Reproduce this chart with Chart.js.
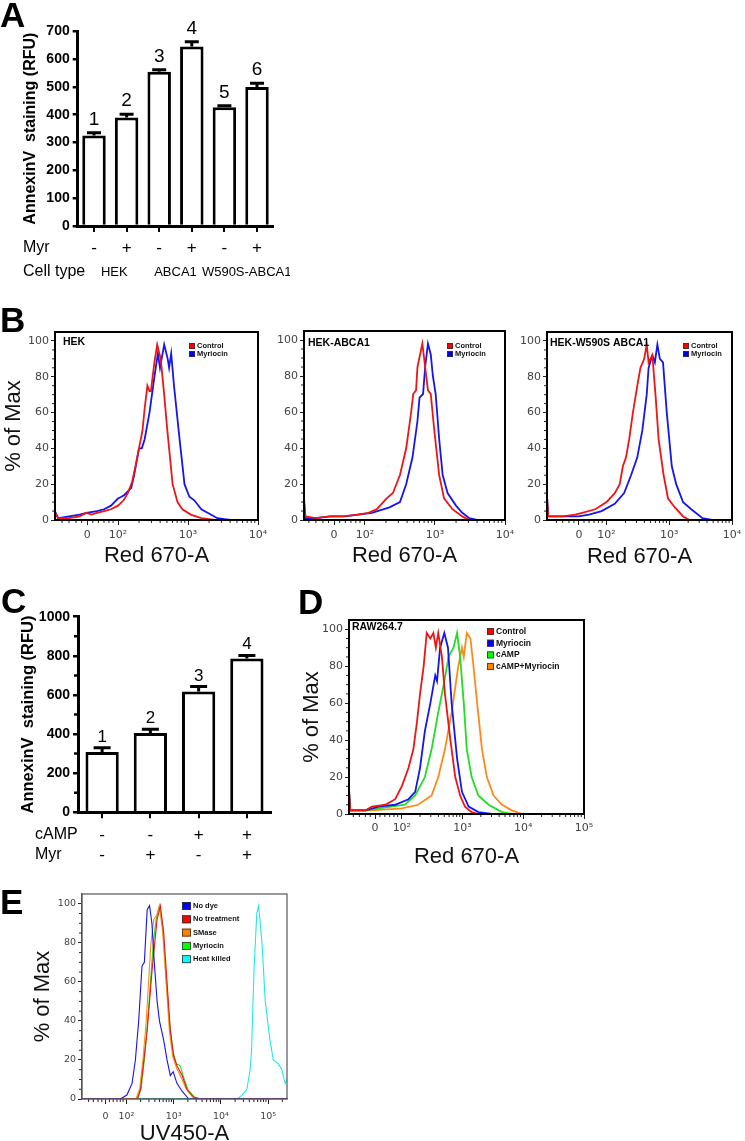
<!DOCTYPE html>
<html>
<head>
<meta charset="utf-8">
<script src="https://cdn.jsdelivr.net/npm/chart.js@4.4.1/dist/chart.umd.min.js"></script>
<style>
  html, body { margin: 0; padding: 0; background: #fff; width: 745px; height: 1141px; overflow: hidden; }
  canvas { position: absolute; }
  .panel { position: absolute; font: bold 35px "Liberation Sans", Arial, sans-serif; line-height: 35px; color: #000; }
</style>
</head>
<body>
<canvas id="chartA"></canvas>
<canvas id="chartC"></canvas>
<canvas id="chartB1"></canvas>
<canvas id="chartB2"></canvas>
<canvas id="chartB3"></canvas>
<canvas id="chartD"></canvas>
<canvas id="chartE"></canvas>
<div class="panel" style="left:0px;top:-3px">A</div>
<div class="panel" style="left:0px;top:302px">B</div>
<div class="panel" style="left:1px;top:583px">C</div>
<div class="panel" style="left:298px;top:584px">D</div>
<div class="panel" style="left:0px;top:884px">E</div>
<script>
// Panel A - AnnexinV staining, HEK / ABCA1 / W590S-ABCA1
const aMyr = ['-', '+', '-', '+', '-', '+'];
const aValues = [325, 390, 555, 645, 427, 500];
const aErrors = [10, 12, 7, 17, 5, 13];
const aCellTypes = ['HEK', 'ABCA1', 'W590S-ABCA1'];

// Panel C - AnnexinV staining, RAW264.7 with cAMP / Myr
const cCamp = ['-', '-', '+', '+'];
const cMyr = ['-', '+', '-', '+'];
const cValues = [308, 406, 618, 786];
const cErrors = [22, 18, 25, 16];

// Flow histograms: x is the display (logicle) position, 2 = 10^2, 3 = 10^3 ...
const xTickValues = [1.56, 2, 3, 4, 5];
const xTickLabels = ['0', '10\u00B2', '10\u00B3', '10\u2074', '10\u2075'];
const yTickValues = [0, 20, 40, 60, 80, 100];

// B - HEK
const hekControl = [[1.1,2],[1.12,3],[1.14,1],[1.3,1],[1.45,2],[1.55,4],[1.62,3],[1.7,4],[1.8,5],[1.9,6],[2.0,8],[2.08,11],[2.14,15],[2.2,21],[2.25,30],[2.3,40],[2.35,50],[2.38,62],[2.42,75],[2.45,72],[2.47,72],[2.52,88],[2.56,98],[2.61,90],[2.66,70],[2.7,52],[2.73,40],[2.78,20],[2.85,10],[2.92,6],[3.04,3],[3.19,1],[3.38,0],[4.0,0]];
const hekMyriocin = [[1.1,5],[1.12,3],[1.15,1],[1.3,2],[1.45,3],[1.55,4],[1.7,5],[1.8,6],[1.9,8],[2.0,12],[2.05,13],[2.09,14],[2.14,16],[2.19,18],[2.23,25],[2.3,40],[2.34,40],[2.38,45],[2.45,60],[2.52,80],[2.57,93],[2.6,85],[2.66,98],[2.71,90],[2.73,85],[2.76,93],[2.8,75],[2.88,45],[2.95,20],[3.02,13],[3.09,11],[3.19,6],[3.28,4],[3.42,1],[3.6,0],[4.0,0]];
// B - HEK-ABCA1
const abcaControl = [[1.13,12],[1.15,2],[1.3,1],[1.5,2],[1.7,2],[1.9,3],[2.05,4],[2.17,6],[2.31,12],[2.4,15],[2.5,25],[2.59,40],[2.66,60],[2.69,70],[2.73,72],[2.75,85],[2.82,98],[2.86,85],[2.9,72],[2.94,70],[2.99,50],[3.06,25],[3.13,12],[3.25,6],[3.39,2],[3.49,0],[4.0,0]];
const abcaMyriocin = [[1.13,10],[1.15,1],[1.3,1],[1.5,2],[1.7,2],[1.9,3],[2.1,4],[2.35,7],[2.5,10],[2.59,20],[2.68,35],[2.75,55],[2.78,68],[2.83,70],[2.86,85],[2.9,98],[2.94,92],[2.97,80],[3.01,70],[3.06,45],[3.11,25],[3.18,15],[3.3,8],[3.39,4],[3.49,1],[3.6,0],[4.0,0]];
// B - HEK-W590S ABCA1
const w590Control = [[1.05,13],[1.07,2],[1.3,2],[1.5,3],[1.61,4],[1.82,6],[2.0,10],[2.13,15],[2.21,20],[2.26,30],[2.31,35],[2.36,45],[2.42,60],[2.49,75],[2.54,85],[2.6,90],[2.64,98],[2.67,88],[2.73,92],[2.78,70],[2.83,45],[2.91,25],[2.98,12],[3.09,7],[3.22,2],[3.32,0],[4.0,0]];
const w590Myriocin = [[1.05,13],[1.07,2],[1.3,2],[1.55,2],[1.72,3],[1.92,5],[2.13,9],[2.28,15],[2.39,25],[2.49,35],[2.57,50],[2.64,70],[2.67,85],[2.73,92],[2.77,88],[2.81,98],[2.85,90],[2.9,88],[2.96,60],[3.04,30],[3.11,20],[3.22,10],[3.35,6],[3.53,1],[3.68,0],[4.0,0]];
// D - RAW264.7
const rawControl = [[1.13,13],[1.15,2],[1.4,2],[1.51,4],[1.73,5],[1.89,8],[2.0,15],[2.11,25],[2.19,35],[2.25,50],[2.3,65],[2.36,80],[2.41,98],[2.47,95],[2.52,98],[2.56,90],[2.6,98],[2.66,85],[2.71,65],[2.8,40],[2.88,20],[2.96,10],[3.04,4],[3.15,1],[3.26,0],[5,0]];
const rawMyriocin = [[1.13,13],[1.15,2],[1.4,2],[1.62,4],[1.89,5],[2.11,8],[2.22,12],[2.3,25],[2.38,45],[2.47,60],[2.55,75],[2.58,72],[2.63,90],[2.7,98],[2.76,90],[2.82,60],[2.91,30],[2.99,12],[3.1,4],[3.26,1],[3.48,0],[5,0]];
const rawCamp = [[1.13,13],[1.15,2],[1.4,2],[1.62,3],[2.05,5],[2.22,10],[2.38,20],[2.49,35],[2.6,55],[2.69,70],[2.77,85],[2.85,90],[2.91,98],[2.96,85],[3.02,60],[3.07,35],[3.15,20],[3.26,10],[3.43,5],[3.65,1],[3.81,0],[5,0]];
const rawCampMyriocin = [[1.13,13],[1.15,2],[1.5,2],[2.0,3],[2.27,5],[2.49,10],[2.6,20],[2.71,35],[2.82,55],[2.93,80],[2.99,90],[3.02,85],[3.07,98],[3.13,95],[3.18,80],[3.24,60],[3.32,35],[3.4,20],[3.51,10],[3.65,5],[3.81,2],[3.98,0],[5,0]];
// E - UV450
const eNoDye = [[1.06,0],[1.87,0],[2.01,2],[2.12,8],[2.19,20],[2.26,40],[2.33,68],[2.38,70],[2.44,97],[2.49,99],[2.54,90],[2.59,70],[2.65,50],[2.7,40],[2.79,30],[2.86,20],[2.93,12],[2.99,14],[3.07,8],[3.18,4],[3.32,0],[5.4,0]];
const eNoTreatment = [[1.06,0],[2.23,0],[2.3,5],[2.37,20],[2.44,35],[2.49,50],[2.54,65],[2.6,80],[2.65,92],[2.72,99],[2.79,85],[2.86,60],[2.93,35],[3.0,22],[3.07,17],[3.18,12],[3.28,5],[3.42,1],[3.56,0],[5.4,0]];
const eSMase = [[1.06,0],[2.2,0],[2.28,5],[2.35,20],[2.42,40],[2.47,60],[2.52,80],[2.58,92],[2.64,94],[2.7,99],[2.77,85],[2.84,60],[2.91,35],[2.98,22],[3.06,16],[3.16,11],[3.27,5],[3.4,1],[3.55,0],[5.4,0]];
const eMyriocin = [[1.06,0],[2.24,0],[2.31,5],[2.38,20],[2.45,40],[2.51,60],[2.57,80],[2.63,92],[2.7,99],[2.77,88],[2.84,62],[2.92,38],[2.99,24],[3.06,18],[3.14,17],[3.2,12],[3.3,5],[3.44,1],[3.58,0],[5.4,0]];
const eHeatKilled = [[1.06,0],[4.34,0],[4.45,2],[4.55,5],[4.62,15],[4.65,25],[4.7,65],[4.76,95],[4.8,99],[4.87,80],[4.94,50],[5.04,30],[5.11,20],[5.22,18],[5.29,15],[5.36,8],[5.4,10]];

const FONT = '"Liberation Sans", Arial, sans-serif';
const TICKFONT = '"DejaVu Sans", Verdana, sans-serif';

// minor tick positions on the histogram axes
const xMinor = [1.2, 1.3, 1.4, 1.48, 1.64, 1.72, 1.8, 1.87, 1.93];
for (let d = 2; d <= 5; d++) for (let k = 2; k <= 9; k++) xMinor.push(d + Math.log10(k));
const yMinor = [];
for (let v = 5; v < 100; v += 5) if (v % 20) yMinor.push(v);

function place(canvas, box) {
  canvas.width = box.w;
  canvas.height = box.h;
  canvas.style.left = box.x + 'px';
  canvas.style.top = box.y + 'px';
}

function layoutFor(box, area) {
  return {
    padding: { left: 0, top: area.t - box.y, right: box.x + box.w - area.r, bottom: 0 },
    yWidth: area.l - box.x,
    xHeight: box.y + box.h - area.b
  };
}

// error bars, bar numbers and the extra label rows under panels A and C
const barDecor = {
  id: 'barDecor',
  afterDraw(chart, args, o) {
    const { ctx, scales: { y } } = chart;
    const meta = chart.getDatasetMeta(0);
    const values = chart.data.datasets[0].data;
    ctx.save();
    ctx.strokeStyle = '#000';
    ctx.fillStyle = '#000';
    ctx.lineWidth = 3;
    meta.data.forEach((bar, i) => {
      const base = y.getPixelForValue(values[i]);
      const top = y.getPixelForValue(values[i] + o.errors[i]);
      ctx.beginPath();
      ctx.moveTo(bar.x, base);
      ctx.lineTo(bar.x, top);
      ctx.moveTo(bar.x - o.cap / 2, top);
      ctx.lineTo(bar.x + o.cap / 2, top);
      ctx.stroke();
      ctx.font = `${o.numSize}px ${FONT}`;
      ctx.textAlign = 'center';
      ctx.textBaseline = 'alphabetic';
      ctx.fillText(String(i + 1), bar.x, top - o.numGap);
    });
    // minor y ticks
    if (o.yMinor) {
      ctx.lineWidth = 2.5;
      ctx.beginPath();
      o.yMinor.forEach(v => {
        const p = y.getPixelForValue(v);
        ctx.moveTo(chart.chartArea.left, p);
        ctx.lineTo(chart.chartArea.left - 4, p);
      });
      ctx.stroke();
    }
    // group names centred under each pair of bars
    if (o.groups) {
      ctx.font = `${o.groupSize}px ${FONT}`;
      ctx.textAlign = 'center';
      ctx.textBaseline = 'middle';
      o.groups.forEach((g, i) => {
        const xa = meta.data[2 * i].x, xb = meta.data[2 * i + 1].x;
        ctx.fillText(g, (xa + xb) / 2 + o.groupShift[i], o.groupY);
      });
    }
    ctx.textAlign = 'left';
    ctx.textBaseline = 'middle';
    o.rows.forEach(r => {
      ctx.font = `${r.size}px ${FONT}`;
      ctx.fillText(r.text, r.x, r.y);
    });
    ctx.restore();
  }
};

function barChart(id, box, area, cfg) {
  const canvas = document.getElementById(id);
  place(canvas, box);
  const lay = layoutFor(box, area);
  return new Chart(canvas, {
    type: 'bar',
    data: {
      labels: cfg.labels,
      datasets: [{
        data: cfg.values,
        backgroundColor: '#fff',
        borderColor: '#000',
        borderWidth: 3,
        categoryPercentage: 1,
        barPercentage: cfg.barPct
      }]
    },
    options: {
      responsive: false,
      animation: false,
      layout: { padding: lay.padding },
      plugins: {
        legend: { display: false },
        tooltip: { enabled: false },
        barDecor: cfg.decor
      },
      scales: {
        x: {
          grid: { display: true, drawOnChartArea: false, offset: false, tickLength: 6, color: '#000', lineWidth: 2 },
          border: { color: '#000', width: 3 },
          ticks: { color: '#000', font: { family: FONT, size: 17, lineHeight: 1.2 }, padding: cfg.xPad, maxRotation: 0, autoSkip: false },
          afterFit: s => { s.height = lay.xHeight; }
        },
        y: {
          min: 0,
          max: cfg.max,
          ticks: { stepSize: cfg.step, callback: v => String(v), color: '#000', font: { family: FONT, size: 14, weight: 'bold' }, padding: 3 },
          grid: { display: true, drawOnChartArea: false, tickLength: 5, color: '#000', lineWidth: 2.5 },
          border: { color: '#000', width: 3 },
          title: {
            display: true,
            text: 'AnnexinV  staining (RFU)',
            color: '#000',
            font: { family: FONT, size: cfg.titleSize, weight: 'bold', lineHeight: 1.2 },
            padding: { top: cfg.titleX - box.x - cfg.titleSize * 0.6, bottom: 0 }
          },
          afterFit: s => { s.width = lay.yWidth; }
        }
      }
    },
    plugins: [barDecor]
  });
}

// frame, minor ticks, sample name and the boxed legend of a flow histogram
const histDecor = {
  id: 'histDecor',
  afterDraw(chart, args, o) {
    const { ctx, chartArea: a, scales: { x, y } } = chart;
    ctx.save();
    ctx.strokeStyle = '#222';
    ctx.lineWidth = 1;
    ctx.beginPath();
    xMinor.forEach(v => {
      if (v <= x.min || v >= x.max) return;
      const p = x.getPixelForValue(v);
      ctx.moveTo(p, a.bottom);
      ctx.lineTo(p, a.bottom + 3);
    });
    yMinor.forEach(v => {
      const p = y.getPixelForValue(v);
      ctx.moveTo(a.left, p);
      ctx.lineTo(a.left - 3, p);
    });
    ctx.stroke();

    ctx.strokeStyle = o.frameColor;
    ctx.lineWidth = o.frameWidth;
    ctx.strokeRect(a.left, a.top, a.right - a.left, a.bottom - a.top);

    if (o.name) {
      ctx.fillStyle = '#000';
      ctx.font = `bold ${o.nameSize}px ${FONT}`;
      ctx.textAlign = 'left';
      ctx.textBaseline = 'middle';
      ctx.fillText(o.name, a.left + o.nameX, a.top + o.nameY);
    }

    const lg = o.legend;
    ctx.font = `bold ${lg.size}px ${FONT}`;
    ctx.textBaseline = 'middle';
    chart.data.datasets.forEach((ds, i) => {
      const bx = a.left + lg.x;
      const by = a.top + lg.y + i * lg.step;
      ctx.fillStyle = ds.boxColor;
      ctx.fillRect(bx, by, lg.w, lg.h);
      ctx.strokeStyle = '#333';
      ctx.lineWidth = 0.8;
      ctx.strokeRect(bx + 0.5, by + 0.5, lg.w - 1, lg.h - 1);
      ctx.fillStyle = '#111';
      ctx.fillText(ds.label, bx + lg.w + 2, by + lg.h / 2);
    });
    ctx.restore();
  }
};

function histChart(id, box, area, cfg) {
  const canvas = document.getElementById(id);
  place(canvas, box);
  const lay = layoutFor(box, area);
  const titleFont = { family: FONT, size: 22, lineHeight: 1.2 };
  return new Chart(canvas, {
    type: 'line',
    data: {
      datasets: cfg.series.map(s => ({
        label: s.label,
        data: s.points.map(p => ({ x: p[0], y: p[1] })),
        borderColor: s.color,
        boxColor: s.box,
        borderWidth: cfg.lineWidth,
        pointRadius: 0,
        tension: 0,
        fill: false
      }))
    },
    options: {
      responsive: false,
      animation: false,
      layout: { padding: lay.padding },
      plugins: {
        legend: { display: false },
        tooltip: { enabled: false },
        histDecor: cfg.decor
      },
      scales: {
        x: {
          type: 'linear',
          min: cfg.xMin,
          max: cfg.xMax,
          afterBuildTicks: s => { s.ticks = xTickValues.filter(v => v <= cfg.xMax).map(v => ({ value: v })); },
          ticks: {
            callback: v => xTickLabels[xTickValues.indexOf(v)],
            color: '#444',
            font: { family: TICKFONT, size: cfg.tickSize },
            padding: cfg.xTickPad,
            maxRotation: 0,
            autoSkip: false
          },
          grid: { display: true, drawOnChartArea: false, tickLength: 5, color: '#222', lineWidth: 1 },
          border: { color: cfg.decor.frameColor, width: cfg.decor.frameWidth },
          title: {
            display: true,
            text: cfg.xTitle,
            color: '#111',
            font: titleFont,
            padding: { top: 0, bottom: box.y + box.h - cfg.xTitleY - 13.2 }
          },
          afterFit: s => { s.height = lay.xHeight; }
        },
        y: {
          min: 0,
          max: 105,
          afterBuildTicks: s => { s.ticks = yTickValues.map(v => ({ value: v })); },
          ticks: { color: '#444', font: { family: TICKFONT, size: cfg.tickSize }, padding: 2 },
          grid: { display: true, drawOnChartArea: false, tickLength: 4, color: '#222', lineWidth: 1 },
          border: { color: cfg.decor.frameColor, width: cfg.decor.frameWidth },
          title: {
            display: !!cfg.yTitleX,
            text: '% of Max',
            color: '#111',
            font: titleFont,
            padding: { top: (cfg.yTitleX || 0) - box.x - 13.2, bottom: 0 }
          },
          afterFit: s => { s.width = lay.yWidth; }
        }
      }
    },
    plugins: [histDecor]
  });
}

const RED = '#ee1515', BLUE = '#1515ee', GREEN = '#22dd22', ORANGE = '#ff8a1a', CYAN = '#22e8e8';
const bLegend = { w: 6, h: 6, step: 8, size: 7.5 };

// ---- A ----
barChart('chartA', { x: 0, y: 0, w: 290, h: 290 }, { l: 77.7, t: 31.3, r: 273.3, b: 226 }, {
  labels: aMyr, values: aValues, max: 700, step: 100, barPct: 0.72, xPad: 5.8,
  titleX: 31, titleSize: 16,
  decor: {
    errors: aErrors, cap: 14, numSize: 19, numGap: 8,
    groups: aCellTypes, groupSize: 13, groupY: 272, groupShift: [4, 0, 6],
    rows: [{ text: 'Myr', x: 23, y: 248, size: 16 }, { text: 'Cell type', x: 23, y: 272, size: 16 }]
  }
});

// ---- C ----
barChart('chartC', { x: 0, y: 600, w: 290, h: 270 }, { l: 78, t: 616.7, r: 271, b: 812.3 }, {
  labels: cCamp.map((c, i) => [c, cMyr[i]]), values: cValues, max: 1000, step: 200, barPct: 0.69, xPad: 6.5,
  titleX: 28.5, titleSize: 16.5,
  decor: {
    errors: cErrors, cap: 17, numSize: 17, numGap: 6,
    yMinor: [100, 300, 500, 700, 900],
    rows: [{ text: 'cAMP', x: 35, y: 235, size: 16 }, { text: 'Myr', x: 35, y: 255, size: 16 }]
  }
});

// ---- B ----
histChart('chartB1', { x: 0, y: 310, w: 285, h: 260 }, { l: 55, t: 332, r: 258, b: 520 }, {
  xMin: 1.1, xMax: 4, lineWidth: 1.8, tickSize: 11, xTickPad: 3.4,
  xTitle: 'Red 670-A', xTitleY: 555.5, yTitleX: 14,
  series: [
    { label: 'Control', points: hekControl, color: RED, box: '#ff0000' },
    { label: 'Myriocin', points: hekMyriocin, color: BLUE, box: '#0000ff' }
  ],
  decor: { frameColor: '#000', frameWidth: 2, name: 'HEK', nameSize: 10.5, nameX: 8, nameY: 10.5,
    legend: Object.assign({ x: 134, y: 11 }, bLegend) }
});
histChart('chartB2', { x: 262, y: 310, w: 265, h: 260 }, { l: 304, t: 331, r: 505, b: 520 }, {
  xMin: 1.13, xMax: 4, lineWidth: 1.8, tickSize: 11, xTickPad: 3.4,
  xTitle: 'Red 670-A', xTitleY: 555.5,
  series: [
    { label: 'Control', points: abcaControl, color: RED, box: '#ff0000' },
    { label: 'Myriocin', points: abcaMyriocin, color: BLUE, box: '#0000ff' }
  ],
  decor: { frameColor: '#000', frameWidth: 2, name: 'HEK-ABCA1', nameSize: 10.5, nameX: 4, nameY: 12,
    legend: Object.assign({ x: 143, y: 12 }, bLegend) }
});
histChart('chartB3', { x: 508, y: 310, w: 237, h: 260 }, { l: 547, t: 332, r: 732, b: 520 }, {
  xMin: 1.05, xMax: 4, lineWidth: 1.8, tickSize: 11, xTickPad: 3.4,
  xTitle: 'Red 670-A', xTitleY: 556.5,
  series: [
    { label: 'Control', points: w590Control, color: RED, box: '#ff0000' },
    { label: 'Myriocin', points: w590Myriocin, color: BLUE, box: '#0000ff' }
  ],
  decor: { frameColor: '#000', frameWidth: 2, name: 'HEK-W590S ABCA1', nameSize: 10.5, nameX: 3, nameY: 11,
    legend: Object.assign({ x: 136, y: 11 }, bLegend) }
});

// ---- D ----
histChart('chartD', { x: 296, y: 605, w: 310, h: 272 }, { l: 349, t: 620, r: 584, b: 814 }, {
  xMin: 1.13, xMax: 5, lineWidth: 1.8, tickSize: 11, xTickPad: 2.4,
  xTitle: 'Red 670-A', xTitleY: 857, yTitleX: 312,
  series: [
    { label: 'Control', points: rawControl, color: RED, box: '#ff0000' },
    { label: 'Myriocin', points: rawMyriocin, color: BLUE, box: '#0000ff' },
    { label: 'cAMP', points: rawCamp, color: GREEN, box: '#00ff00' },
    { label: 'cAMP+Myriocin', points: rawCampMyriocin, color: ORANGE, box: '#ff8000' }
  ],
  decor: { frameColor: '#000', frameWidth: 2, name: 'RAW264.7', nameSize: 10.5, nameX: 3, nameY: 7.5,
    legend: { x: 138, y: 8, w: 7, h: 7, step: 11.7, size: 8.5 } }
});

// ---- E ----
histChart('chartE', { x: 0, y: 880, w: 310, h: 270 }, { l: 82, t: 894, r: 287, b: 1099 }, {
  xMin: 1.06, xMax: 5.4, lineWidth: 1.1, tickSize: 9.5, xTickPad: 7.3,
  xTitle: 'UV450-A', xTitleY: 1133.5, yTitleX: 43,
  series: [
    { label: 'No dye', points: eNoDye, color: BLUE, box: '#0000ff' },
    { label: 'No treatment', points: eNoTreatment, color: RED, box: '#ff0000' },
    { label: 'SMase', points: eSMase, color: ORANGE, box: '#ff8000' },
    { label: 'Myriocin', points: eMyriocin, color: GREEN, box: '#00ff00' },
    { label: 'Heat killed', points: eHeatKilled, color: CYAN, box: '#00ffff' }
  ],
  decor: { frameColor: '#555', frameWidth: 1.2,
    legend: { x: 100, y: 8, w: 9, h: 8, step: 13.3, size: 7.5 } }
});
</script>
</body>
</html>
